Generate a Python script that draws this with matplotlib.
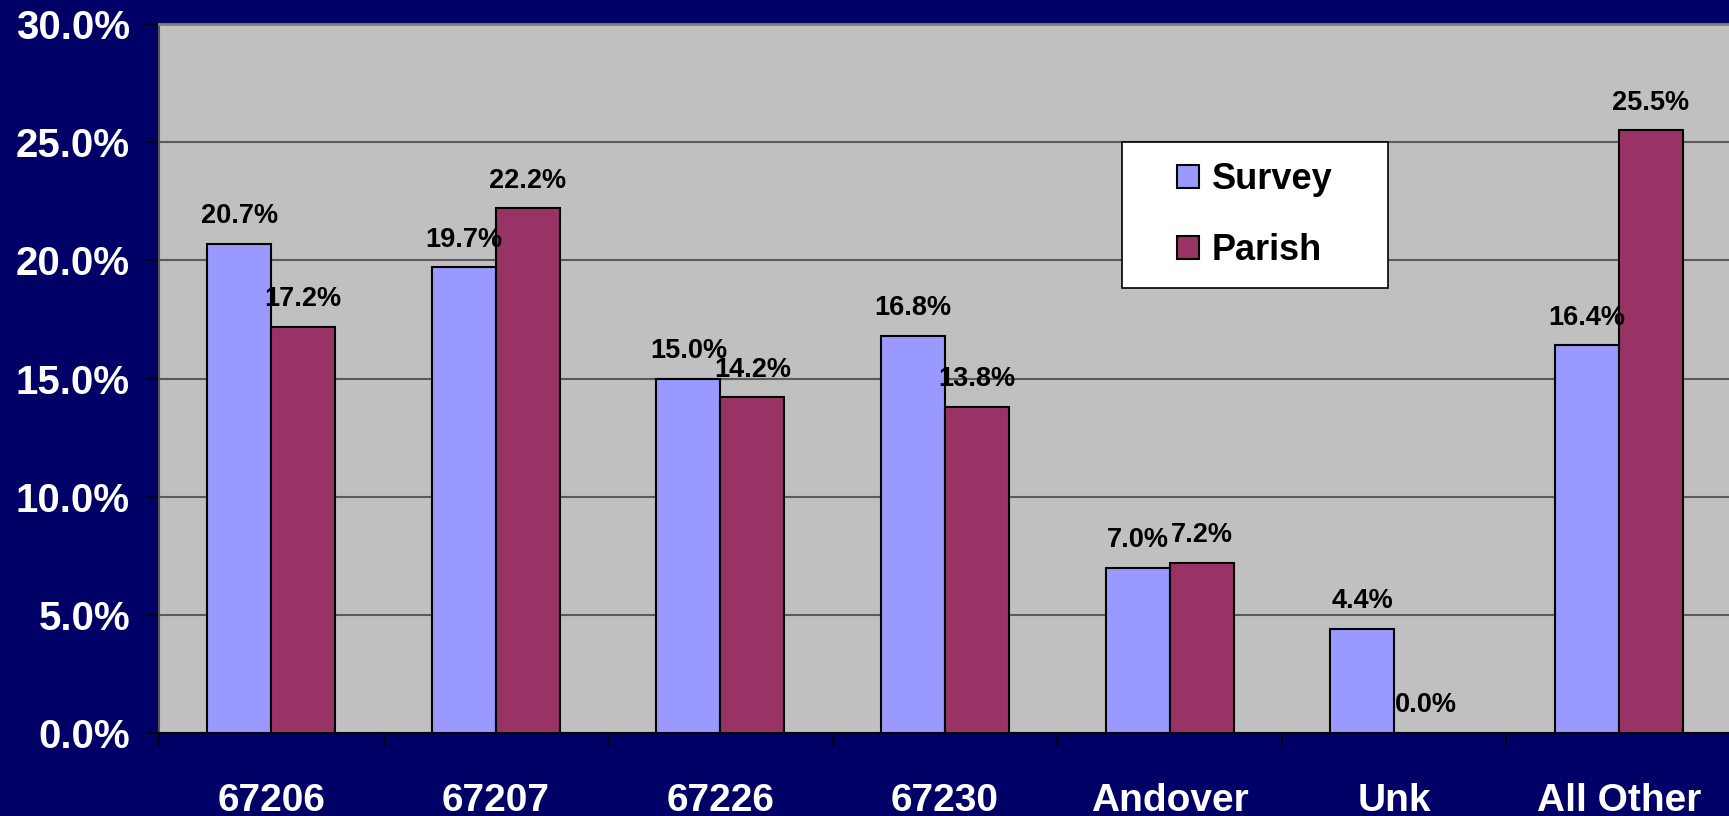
import matplotlib
matplotlib.use('Agg')
import matplotlib.pyplot as plt
import numpy as np
from matplotlib.patches import Rectangle
from matplotlib.ticker import FixedLocator, FuncFormatter

plt.rcParams['font.family'] = ['Liberation Sans', 'DejaVu Sans']
plt.rcParams['font.weight'] = 'bold'

categories = ['67206', '67207', '67226', '67230', 'Andover', 'Unk', 'All Other']
survey = [20.7, 19.7, 15.0, 16.8, 7.0, 4.4, 16.4]
parish = [17.2, 22.2, 14.2, 13.8, 7.2, 0.0, 25.5]
series_names = ['Survey', 'Parish']

navy = '#000066'
survey_color = '#9999FF'
parish_color = '#993366'
plot_bg = '#C0C0C0'

fig = plt.figure(figsize=(17.29, 8.16), dpi=100, facecolor=navy)
ax = fig.add_axes([159 / 1729, 83 / 816, 1572 / 1729, 709 / 816])
ax.set_facecolor(plot_bg)

x = np.arange(len(categories))
w = 0.285
b1 = ax.bar(x - w / 2, survey, w, color=survey_color, edgecolor='black',
            linewidth=1.5, label=series_names[0], zorder=3)
b2 = ax.bar(x + w / 2, parish, w, color=parish_color, edgecolor='black',
            linewidth=1.5, label=series_names[1], zorder=3)
# a zero-height bar should not leave a line on the axis
for rect, v in zip(b2, parish):
    if v == 0:
        rect.set_linewidth(0)

# value labels
for xs, vals in ((x - w / 2, survey), (x + w / 2, parish)):
    for xi, v in zip(xs, vals):
        ax.annotate(f'{v:.1f}%', (xi, v), xytext=(0, 15),
                    textcoords='offset points', ha='center', va='baseline',
                    fontsize=19.5, fontweight='bold', color='black', zorder=4)

ax.set_xlim(-0.5, len(categories) - 0.5)
ax.set_ylim(0, 30)
ax.yaxis.set_major_locator(FixedLocator(np.arange(0, 31, 5)))
ax.yaxis.set_major_formatter(FuncFormatter(lambda v, p: f'{v:.1f}%'))
ax.yaxis.grid(True, color='#5a5a5a', linewidth=1.5, zorder=1)
ax.set_axisbelow(True)

# ticks between categories, labels at the centres
ax.xaxis.set_major_locator(FixedLocator(np.arange(-0.5, len(categories), 1.0)))
ax.xaxis.set_major_formatter(FuncFormatter(lambda v, p: ''))
ax.xaxis.set_minor_locator(FixedLocator(x))
ax.set_xticklabels(categories, minor=True)
ax.tick_params(axis='x', which='major', direction='out', length=10,
               width=1.2, color='black')
ax.tick_params(axis='x', which='minor', length=0, pad=36,
               labelsize=28, labelcolor='white')
ax.tick_params(axis='y', direction='out', length=9.5, width=1.2,
               color='black', pad=11.3, labelsize=29, labelcolor='white')
for lab in ax.get_xticklabels(minor=True) + ax.get_yticklabels():
    lab.set_fontweight('bold')

ax.spines['left'].set_color('#555555')
ax.spines['left'].set_linewidth(1.5)
ax.spines['top'].set_color('#808080')
ax.spines['top'].set_linewidth(2)
ax.spines['right'].set_visible(False)
ax.spines['bottom'].set_color('black')
ax.spines['bottom'].set_linewidth(1.5)

# legend box
box = Rectangle((1122 / 1729, 1 - 288 / 816), 266 / 1729, 146 / 816,
                transform=fig.transFigure, facecolor='white',
                edgecolor='black', linewidth=1.2, zorder=5)
fig.patches.append(box)
leg = fig.legend(handles=[b1, b2], loc='center',
                 bbox_to_anchor=(1255 / 1729, 1 - 215 / 816),
                 frameon=False, handlelength=0.6,
                 handleheight=0.6, handletextpad=0.35, labelspacing=1.0,
                 prop={'weight': 'bold', 'size': 26})
leg.set_zorder(6)

fig.savefig('out.png', dpi=100, facecolor=navy)
